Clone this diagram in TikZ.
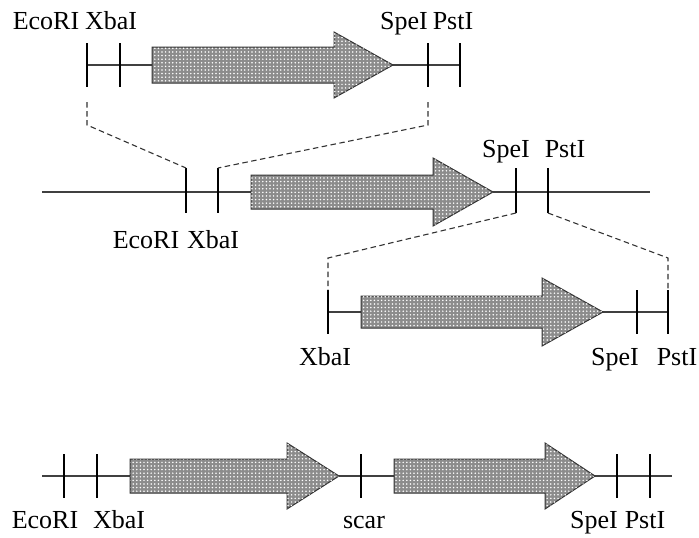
\documentclass[tikz,border=0pt]{standalone}
\usepackage{fontspec}
\setmainfont{Liberation Serif}
\usetikzlibrary{patterns}
% fine grid of light dots used inside the coding regions
\pgfdeclarepatternformonly{gdots}{\pgfqpoint{-1pt}{-1pt}}{\pgfqpoint{1pt}{1pt}}{\pgfqpoint{3.6pt}{3.6pt}}{%
  \pgfpathcircle{\pgfqpoint{0pt}{0pt}}{0.85pt}\pgfusepath{fill}}
\begin{document}
\begin{tikzpicture}[x=1pt,y=-1pt,
  dna/.style={draw=black!75,line width=1.1pt},
  site/.style={draw=black,line width=1.1pt},
  link/.style={draw=black!80,line width=1.1pt,dash pattern=on 5.5pt off 3.5pt},
  gene/.style={draw=black!80,line width=1pt,fill=black!45,
    postaction={pattern=gdots,pattern color=white}},
  lbl/.style={anchor=base,inner sep=0pt,font=\fontsize{26}{30}\selectfont}]
\useasboundingbox (0,0) rectangle (699,538);

% ---- part 1 ----
\coordinate (a1) at (87,65);  \coordinate (b1) at (460,65);
\draw[dna] (a1) -- (b1);
\foreach \n/\x in {e1/87,x1/120,s1/428,p1/460}{
  \coordinate (\n t) at (\x,43); \coordinate (\n b) at (\x,87);
  \draw[site] (\n t) -- (\n b);}
\draw[gene] (152,47) -- (334,47) -- (334,32) -- (393,65) -- (334,98) -- (334,83) -- (152,83) -- cycle;
\node[lbl] (le1) at (46,29) {EcoRI};
\node[lbl] (lx1) at (111,29) {XbaI};
\node[lbl] (ls1) at (404,29) {SpeI};
\node[lbl] (lp1) at (453,29) {PstI};

% ---- part 2: vector ----
\coordinate (a2) at (42,192); \coordinate (b2) at (650,192);
\draw[dna] (a2) -- (b2);
\foreach \n/\x in {e2/186,x2/218,s2/516,p2/548}{
  \coordinate (\n t) at (\x,168); \coordinate (\n b) at (\x,213);
  \draw[site] (\n t) -- (\n b);}
\draw[gene] (251,175) -- (433,175) -- (433,158) -- (493,192) -- (433,226) -- (433,209) -- (251,209) -- cycle;
\node[lbl] (ls2) at (506,157) {SpeI};
\node[lbl] (lp2) at (565,157) {PstI};
\node[lbl] (le2) at (146,248) {EcoRI};
\node[lbl] (lx2) at (213,248) {XbaI};

% ---- part 3: insert ----
\coordinate (a3) at (328,312); \coordinate (b3) at (668,312);
\draw[dna] (a3) -- (b3);
\foreach \n/\x in {x3/328,s3/637,p3/668}{
  \coordinate (\n t) at (\x,290); \coordinate (\n b) at (\x,334);
  \draw[site] (\n t) -- (\n b);}
\draw[gene] (361,296) -- (542,296) -- (542,278) -- (603,312) -- (542,346) -- (542,328) -- (361,328) -- cycle;
\node[lbl] (lx3) at (325,365) {XbaI};
\node[lbl] (ls3) at (615,365) {SpeI};
\node[lbl] (lp3) at (677,365) {PstI};

% ---- dashed guides ----
\coordinate (g1) at (87,102);  \coordinate (h1) at (87,125);
\coordinate (g2) at (428,102); \coordinate (h2) at (428,125);
\draw[link] (g1) -- (h1) -- (e2t);
\draw[link] (g2) -- (h2) -- (x2t);
\coordinate (h3) at (328,258); \coordinate (h4) at (668,258);
\draw[link] (s2b) -- (h3) -- (x3t);
\draw[link] (p2b) -- (h4) -- (p3t);

% ---- part 4: composite ----
\coordinate (a4) at (42,476); \coordinate (b4) at (672,476);
\draw[dna] (a4) -- (b4);
\foreach \n/\x in {e4/64,x4/97,c4/361,s4/617,p4/650}{
  \coordinate (\n t) at (\x,454); \coordinate (\n b) at (\x,498);
  \draw[site] (\n t) -- (\n b);}
\draw[gene] (130,459) -- (287,459) -- (287,443) -- (339,476) -- (287,509) -- (287,493) -- (130,493) -- cycle;
\draw[gene] (394,459) -- (545,459) -- (545,443) -- (595,476) -- (545,509) -- (545,493) -- (394,493) -- cycle;
\node[lbl] (le4) at (45,528) {EcoRI};
\node[lbl] (lx4) at (119,528) {XbaI};
\node[lbl] (lc4) at (364,528) {scar};
\node[lbl] (ls4) at (594,528) {SpeI};
\node[lbl] (lp4) at (645,528) {PstI};
\end{tikzpicture}
\end{document}
